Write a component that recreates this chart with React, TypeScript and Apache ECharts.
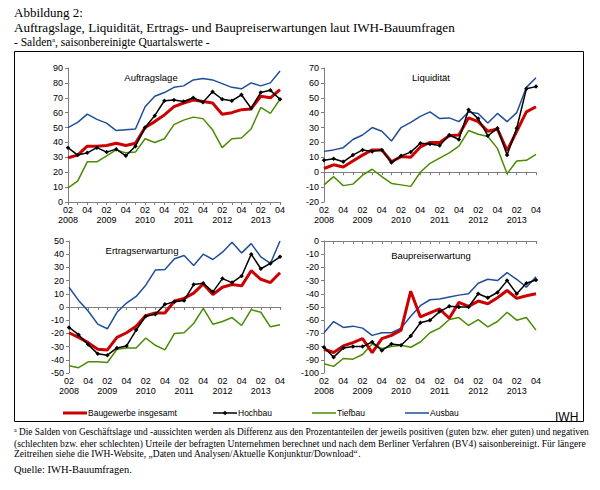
import React, { useEffect, useRef } from "react";
import * as echarts from "echarts";

const quarters = [
  "2008 Q2", "2008 Q3", "2008 Q4",
  "2009 Q1", "2009 Q2", "2009 Q3", "2009 Q4",
  "2010 Q1", "2010 Q2", "2010 Q3", "2010 Q4",
  "2011 Q1", "2011 Q2", "2011 Q3", "2011 Q4",
  "2012 Q1", "2012 Q2", "2012 Q3", "2012 Q4",
  "2013 Q1", "2013 Q2", "2013 Q3", "2013 Q4",
];
const xTickLabels = [
  "02\n2008", "", "04", "", "02\n2009", "", "04", "", "02\n2010", "", "04", "",
  "02\n2011", "", "04", "", "02\n2012", "", "04", "", "02\n2013", "", "04",
];

const seriesNames = ["Baugewerbe insgesamt", "Hochbau", "Tiefbau", "Ausbau"];

// Auftragslage
const auftragBau = [29.7, 31.5, 37.5, 37.5, 38, 39.5, 38, 39.5, 50, 54, 58.5, 64, 66.5, 68.5, 67.5, 66.5, 59, 60, 62, 62.5, 71, 70, 75.5];
const auftragHoch = [36.5, 31.5, 33, 36.5, 33.5, 35.5, 31, 37.5, 50, 58, 68, 68.5, 67.5, 70, 67, 74, 69, 68, 72, 63, 73.5, 75, 69];
const auftragTief = [9.5, 14, 27, 27, 31, 35, 33, 33.5, 42.5, 40, 42.5, 52, 55, 57, 56, 48.5, 36.5, 42.5, 43, 49, 63.5, 59.5, 69];
const auftragAus = [50, 53.5, 59, 55.5, 53, 48, 48.5, 49, 64, 71, 73.5, 77, 78, 82, 83, 82, 79.5, 77, 76, 80, 78, 80, 88];

// Liquidität
const liqBau = [2.5, 5, 3.5, 7.5, 11.5, 15, 15, 7, 10.5, 10, 17, 20, 20, 24.5, 25, 36.5, 34, 27.5, 29, 14.5, 27.5, 40.5, 44];
const liqHoch = [8, 9, 7, 11.5, 15, 14, 15, 6.5, 11, 13.5, 19.5, 19, 18, 25, 22, 42, 36, 24.5, 29.5, 11.5, 29.5, 56, 57.5];
const liqTief = [-8.5, -3, -9, -8, -2, 2, -3, -7.5, -8.5, -9.5, 0, 6, 9.5, 13, 17.5, 28, 25.5, 24, 16, -1, 7.5, 8, 12];
const liqAus = [14, 15, 16.5, 22, 25, 30, 27.5, 21, 30, 33.5, 37.5, 40.5, 36, 36.5, 34, 40.5, 39.5, 33, 39.5, 34, 40, 57, 63.5];

// Ertragserwartung
const ertragBau = [-19.5, -23, -27, -32, -32.5, -23, -19.5, -14.5, -6.5, -4.5, -4.5, 4.5, 6.5, 10.5, 17.5, 9.5, 15, 17, 16, 27.5, 21, 18.5, 26];
const ertragHoch = [-15.5, -21, -28.5, -35.5, -36.5, -31, -29.5, -17.5, -7, -5.5, 2, 4, 5, 17, 18, 11.5, 21.5, 18.5, 23.5, 40, 29, 33, 38];
const ertragTief = [-44.5, -46, -41.5, -41.5, -42, -32, -31, -31, -23.5, -29, -32.5, -20, -19.5, -12.5, -1, -13, -11, -8, -14, -2, -4, -15, -13.5];
const ertragAus = [15, 5, -3, -13, -16.5, -4, 3, 8, 16.5, 28, 28.5, 36.5, 39, 31.5, 40, 36, 41.5, 49, 41, 48, 38, 33, 50];

// Baupreiserwartung
const preisBau = [-82, -84.5, -79.5, -77, -74, -84.5, -74, -71.5, -67.5, -38, -57.5, -54.5, -51.5, -58.5, -46.5, -49.5, -45.5, -47.5, -43, -37.5, -43.5, -41.5, -40];
const preisHoch = [-80.5, -88, -81, -80, -80, -76.5, -83, -78, -79, -72, -62, -60, -53.5, -49.5, -50, -50, -40, -43, -39, -30, -40, -32, -29.5];
const preisTief = [-93, -95, -89, -89.5, -86, -78, -81.5, -80, -79, -80.5, -76.5, -69.5, -66, -59.5, -58, -64, -59.5, -65, -61, -54, -60, -58, -67.5];
const preisAus = [-69.5, -61, -65.5, -64.5, -66, -71.5, -69.5, -69.5, -66, -57, -49, -44.5, -44, -42.5, -41, -40, -32, -29, -30, -24, -29, -35, -27];

const panelTitles = ["Auftragslage", "Liquidität", "Ertragserwartung", "Baupreiserwartung"];
const yRanges = [
  [0, 90],
  [-20, 70],
  [-50, 50],
  [-100, 0],
];

const serif = "'Liberation Serif', 'Times New Roman', serif";
const sans = "'Liberation Sans', Arial, sans-serif";

const colors = ["#cc0000", "#000000", "#4a8c00", "#1f4e98"];
const lineWidths = [3, 1.5, 1.5, 1.5];

export default function App() {
  const ref = useRef<HTMLDivElement>(null);

  useEffect(() => {
    if (!ref.current) return;
    const chart = echarts.init(ref.current, undefined, { renderer: "svg" });

    const panels = [
      [auftragBau, auftragHoch, auftragTief, auftragAus],
      [liqBau, liqHoch, liqTief, liqAus],
      [ertragBau, ertragHoch, ertragTief, ertragAus],
      [preisBau, preisHoch, preisTief, preisAus],
    ];

    const grids = [
      { left: 68, top: 68, width: 212, height: 134 },
      { left: 324, top: 68, width: 212, height: 134 },
      { left: 69, top: 241, width: 211, height: 132 },
      { left: 324, top: 241, width: 212, height: 132 },
    ];

    const xAxes: any[] = [];
    const yAxes: any[] = [];
    const series: any[] = [];

    grids.forEach((g, i) => {
      xAxes.push({
        type: "category",
        gridIndex: i,
        data: quarters,
        position: "bottom",
        boundaryGap: false,
        axisLine: { show: false, onZero: false },
        axisTick: { show: false },
        axisLabel: {
          interval: 0,
          formatter: (_v: string, idx: number) => xTickLabels[idx],
          fontFamily: sans,
          fontSize: 9,
          color: "#000",
          lineHeight: 10,
          margin: 3,
        },
        splitLine: { show: false },
      });
      xAxes.push({
        type: "category",
        gridIndex: i,
        data: quarters,
        position: "top",
        boundaryGap: false,
        axisLine: { show: true, onZero: true, lineStyle: { color: "#7f7f7f", width: 1 } },
        axisTick: { show: true, interval: 0, inside: true, length: 3, lineStyle: { color: "#7f7f7f" } },
        axisLabel: { show: false },
        splitLine: { show: false },
      });
      yAxes.push({
        type: "value",
        gridIndex: i,
        min: yRanges[i][0],
        max: yRanges[i][1],
        interval: 10,
        axisLine: { show: true, onZero: false, lineStyle: { color: "#7f7f7f", width: 1 } },
        axisTick: { show: true, length: 3, lineStyle: { color: "#7f7f7f" } },
        axisLabel: { fontFamily: sans, fontSize: 9, color: "#000", margin: 5 },
        splitLine: { show: false },
      });
      const order = [0, 2, 3, 1];
      order.forEach((s) => {
        series.push({
          type: "line",
          name: seriesNames[s],
          xAxisIndex: i * 2,
          yAxisIndex: i,
          data: panels[i][s],
          color: colors[s],
          lineStyle: { color: colors[s], width: lineWidths[s] },
          showSymbol: s === 1,
          symbol: s === 1 ? "diamond" : "none",
          symbolSize: 4.5,
          itemStyle: { color: colors[s], borderWidth: 0 },
          z: s === 1 ? 5 : s === 0 ? 4 : 3,
        });
      });
    });

    const titlePositions = [
      [151, 77],
      [431, 77],
      [142, 250],
      [431, 255],
    ];

    const graphic: any[] = [
      {
        type: "rect",
        shape: { x: 14.5, y: 51.5, width: 569, height: 370 },
        style: { fill: "none", stroke: "#000", lineWidth: 1 },
        silent: true,
      },
      {
        type: "text",
        x: 14,
        y: 12,
        style: { text: "Abbildung 2:", fontFamily: serif, fontSize: 13, fill: "#000", verticalAlign: "middle" },
      },
      {
        type: "text",
        x: 14,
        y: 27,
        style: {
          text: "Auftragslage, Liquidität, Ertrags- und Baupreiserwartungen laut IWH-Bauumfragen",
          fontFamily: serif,
          fontSize: 13.1,
          fill: "#000",
          verticalAlign: "middle",
        },
      },
      {
        type: "text",
        x: 14,
        y: 42,
        style: {
          text: "- Salden{sup|a}, saisonbereinigte Quartalswerte -",
          fontFamily: serif,
          fontSize: 11.5,
          fill: "#000",
          verticalAlign: "middle",
          rich: { sup: { fontFamily: serif, fontSize: 7, verticalAlign: "top", padding: [0, 0, 5, 0] } },
        },
      },
      {
        type: "text",
        x: 555,
        y: 417,
        style: { text: "IWH", fontFamily: sans, fontSize: 12, fill: "#000", verticalAlign: "middle" },
      },
      {
        type: "text",
        x: 14,
        y: 432,
        style: {
          text:
            "{sup|a} Die Salden von Geschäftslage und -aussichten werden als Differenz aus den Prozentanteilen der jeweils positiven (guten bzw. eher guten) und negativen",
          fontFamily: serif,
          fontSize: 9.35,
          fill: "#000",
          verticalAlign: "middle",
          rich: { sup: { fontFamily: serif, fontSize: 6, verticalAlign: "top", padding: [0, 0, 4, 0] } },
        },
      },
      {
        type: "text",
        x: 14,
        y: 443,
        style: {
          text:
            "(schlechten bzw. eher schlechten) Urteile der befragten Unternehmen berechnet und nach dem Berliner Verfahren (BV4) saisonbereinigt. Für längere",
          fontFamily: serif,
          fontSize: 9.6,
          fill: "#000",
          verticalAlign: "middle",
        },
      },
      {
        type: "text",
        x: 14,
        y: 454,
        style: {
          text: "Zeitreihen siehe die {link|IWH-Website, „Daten und Analysen/Aktuelle Konjunktur/Download“}.",
          fontFamily: serif,
          fontSize: 9.5,
          fill: "#000",
          verticalAlign: "middle",
          rich: { link: { fontFamily: serif, fontSize: 9.5, color: "#1f4e98" } },
        },
      },
      {
        type: "text",
        x: 14,
        y: 469,
        style: { text: "Quelle: IWH-Bauumfragen.", fontFamily: serif, fontSize: 10.5, fill: "#000", verticalAlign: "middle" },
      },
    ];
    panelTitles.forEach((t, i) => {
      graphic.push({
        type: "text",
        x: titlePositions[i][0],
        y: titlePositions[i][1],
        style: {
          text: t,
          fontFamily: sans,
          fontSize: 9.5,
          fill: "#000",
          align: "center",
          verticalAlign: "middle",
        },
      });
    });

    // legend (key) drawn as graphic elements
    const legendLeft = [63, 213, 312, 405];
    const legendY = 413;
    seriesNames.forEach((n, i) => {
      const x0 = legendLeft[i];
      graphic.push({
        type: "line",
        shape: { x1: x0, y1: legendY, x2: x0 + 24, y2: legendY },
        style: { stroke: colors[i], lineWidth: lineWidths[i] },
        silent: true,
      });
      if (i === 1) {
        graphic.push({
          type: "polygon",
          shape: { points: [[x0 + 12, legendY - 2.3], [x0 + 14.3, legendY], [x0 + 12, legendY + 2.3], [x0 + 9.7, legendY]] },
          style: { fill: colors[i] },
          silent: true,
        });
      }
      graphic.push({
        type: "text",
        x: x0 + 25,
        y: legendY,
        style: { text: n, fontFamily: sans, fontSize: 8.5, fill: "#000", verticalAlign: "middle" },
      });
    });

    chart.setOption({
      animation: false,
      backgroundColor: "#ffffff",
      grid: grids,
      xAxis: xAxes,
      yAxis: yAxes,
      series,
      graphic,
    });

    return () => chart.dispose();
  }, []);

  return (
    <div
      ref={ref}
      style={{ position: "absolute", left: 0, top: 0, width: 600, height: 490, background: "#fff" }}
    />
  );
}
